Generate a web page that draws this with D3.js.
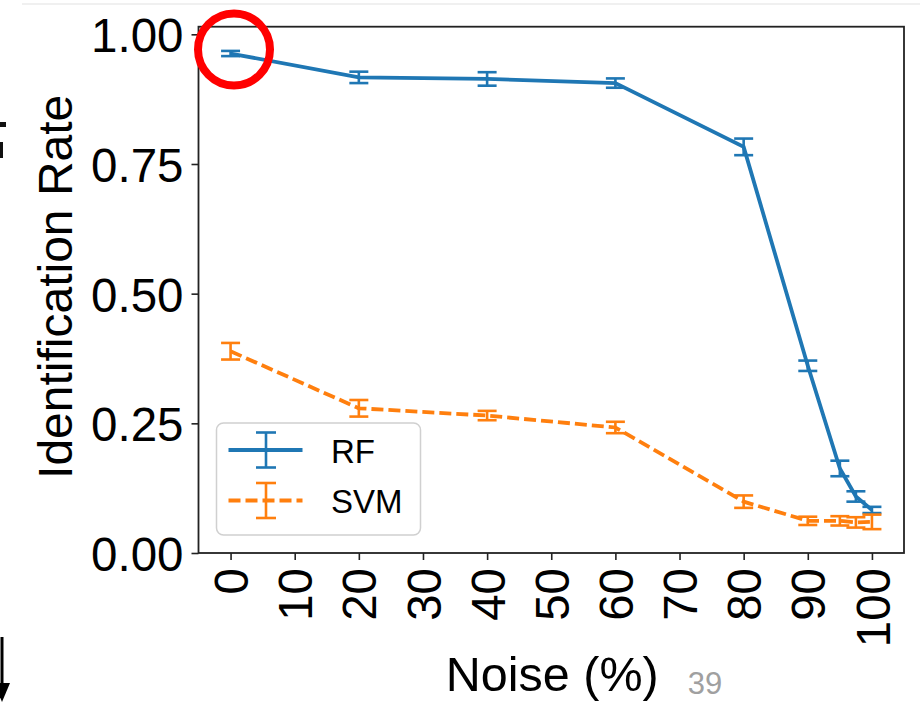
<!DOCTYPE html>
<html>
<head>
<meta charset="utf-8">
<script src="https://cdn.jsdelivr.net/npm/d3@7"></script>
<style>
  html, body { margin: 0; padding: 0; background: #fff; }
  svg { display: block; }
  text { font-family: "Liberation Sans", Arial, sans-serif; }
</style>
</head>
<body>
<svg id="chart" width="920" height="703"></svg>
<script>
// Noise levels (%) on the x axis
const noise = [0, 20, 40, 60, 80, 90, 95, 97.5, 100];

// Random forest identification rate and its spread
const rfRate = [0.963, 0.917, 0.914, 0.906, 0.783, 0.361, 0.163, 0.109, 0.083];
const rfErr  = [0.005, 0.011, 0.013, 0.009, 0.016, 0.010, 0.015, 0.010, 0.006];

// SVM identification rate and its spread
const svmRate = [0.389, 0.279, 0.265, 0.242, 0.099, 0.062, 0.062, 0.059, 0.060];
const svmErr  = [0.016, 0.016, 0.009, 0.011, 0.012, 0.008, 0.009, 0.010, 0.014];

const yTicks = [0, 0.25, 0.5, 0.75, 1.0];
const xTicks = [0, 10, 20, 30, 40, 50, 60, 70, 80, 90, 100];

const seriesNames = ["RF", "SVM"];
const seriesColors = ["#1f77b4", "#ff7f0e"];

const svg = d3.select("#chart");

const box = { left: 198.5, right: 904, top: 26.7, bottom: 553 };

const x = d3.scaleLinear().domain([-5, 105]).range([box.left, box.right]);
const y = d3.scaleLinear().domain([0, 1.0147]).range([box.bottom, box.top]);

// faint rule across the top of the slide
svg.append("line")
  .attr("x1", 22).attr("x2", 920).attr("y1", 4).attr("y2", 4)
  .attr("stroke", "#f0f0f0").attr("stroke-width", 2);

// axes
const tickFont = 47.5;
const yAxis = svg.append("g")
  .attr("transform", `translate(${box.left},0)`)
  .call(d3.axisLeft(y).tickValues(yTicks).tickFormat(d3.format(".2f")).tickSize(7).tickPadding(8));
yAxis.select(".domain").remove();
yAxis.selectAll(".tick line").attr("stroke", "#222").attr("stroke-width", 1.6);
yAxis.selectAll(".tick text")
  .attr("font-size", tickFont).attr("fill", "#000")
  .attr("font-family", "Liberation Sans, Arial, sans-serif")
  .attr("dy", "0.37em");

const xAxis = svg.append("g")
  .attr("transform", `translate(0,${box.bottom})`)
  .call(d3.axisBottom(x).tickValues(xTicks).tickFormat(d3.format("d")).tickSize(7));
xAxis.select(".domain").remove();
xAxis.selectAll(".tick line").attr("stroke", "#222").attr("stroke-width", 1.6);
xAxis.selectAll(".tick text")
  .attr("font-size", tickFont).attr("fill", "#000")
  .attr("font-family", "Liberation Sans, Arial, sans-serif")
  .attr("text-anchor", "end")
  .attr("transform", "translate(0,15) rotate(-90)")
  .attr("x", 0).attr("y", 0).attr("dy", "0.36em");

// plot frame
svg.append("rect")
  .attr("x", box.left).attr("y", box.top)
  .attr("width", box.right - box.left).attr("height", box.bottom - box.top)
  .attr("fill", "none").attr("stroke", "#222").attr("stroke-width", 1.8);

// axis titles
svg.append("text")
  .attr("transform", `translate(72,${(box.top + box.bottom) / 2 - 3}) rotate(-90)`)
  .attr("text-anchor", "middle")
  .attr("font-size", 48).attr("fill", "#000")
  .text("Identification Rate");

svg.append("text")
  .attr("x", (box.left + box.right) / 2 + 1).attr("y", 691)
  .attr("text-anchor", "middle")
  .attr("font-size", 48.5).attr("fill", "#000")
  .text("Noise (%)");

// series
const series = [
  { name: seriesNames[0], rate: rfRate, err: rfErr, color: seriesColors[0], dash: null },
  { name: seriesNames[1], rate: svmRate, err: svmErr, color: seriesColors[1], dash: "12,5" }
];

const line = d3.line().x(d => x(d[0])).y(d => y(d[1]));
const capHalf = 9.5;
const lineW = 3.8;
const barW = 2.6;

series.forEach(s => {
  const g = svg.append("g");
  const pts = noise.map((n, i) => [n, s.rate[i], s.err[i]]);
  g.append("path")
    .attr("d", line(pts))
    .attr("fill", "none")
    .attr("stroke", s.color)
    .attr("stroke-width", lineW)
    .attr("stroke-dasharray", s.dash);
  const eb = g.selectAll("g.eb").data(pts).join("g").attr("class", "eb");
  eb.append("line")
    .attr("x1", d => x(d[0])).attr("x2", d => x(d[0]))
    .attr("y1", d => y(d[1] - d[2])).attr("y2", d => y(d[1] + d[2]))
    .attr("stroke", s.color).attr("stroke-width", barW);
  [-1, 1].forEach(sign => {
    eb.append("line")
      .attr("x1", d => x(d[0]) - capHalf).attr("x2", d => x(d[0]) + capHalf)
      .attr("y1", d => y(d[1] + sign * d[2])).attr("y2", d => y(d[1] + sign * d[2]))
      .attr("stroke", s.color).attr("stroke-width", barW);
  });
});

// legend
const legend = svg.append("g");
legend.append("rect")
  .attr("x", 216.5).attr("y", 423).attr("width", 204).attr("height", 112)
  .attr("rx", 7).attr("fill", "#fff").attr("fill-opacity", 0.85)
  .attr("stroke", "#d0d0d0").attr("stroke-width", 1.5);

series.forEach((s, i) => {
  const cy = 450 + i * 50.5;
  const lg = legend.append("g");
  lg.append("line")
    .attr("x1", 228.5).attr("x2", 302.5).attr("y1", cy).attr("y2", cy)
    .attr("stroke", s.color).attr("stroke-width", lineW)
    .attr("stroke-dasharray", s.dash);
  lg.append("line")
    .attr("x1", 266).attr("x2", 266).attr("y1", cy - 17.5).attr("y2", cy + 17.5)
    .attr("stroke", s.color).attr("stroke-width", barW);
  [-17.5, 17.5].forEach(o => {
    lg.append("line")
      .attr("x1", 256).attr("x2", 276).attr("y1", cy + o).attr("y2", cy + o)
      .attr("stroke", s.color).attr("stroke-width", barW);
  });
  lg.append("text")
    .attr("x", 331).attr("y", cy + 12.5)
    .attr("font-size", 33).attr("fill", "#000")
    .text(s.name);
});

// highlight ring around the clean-data RF point
svg.append("circle")
  .attr("cx", 234).attr("cy", 49.5).attr("r", 36)
  .attr("fill", "none").attr("stroke", "#ff0000").attr("stroke-width", 8);

// slide page number
svg.append("text")
  .attr("x", 705).attr("y", 694)
  .attr("text-anchor", "middle")
  .attr("font-family", "Liberation Sans Narrow, Noto Sans, sans-serif")
  .attr("font-size", 31).attr("fill", "#a0a0a0")
  .text("39");

// marks at the left edge of the slide
svg.append("rect").attr("x", 0).attr("y", 122).attr("width", 6).attr("height", 5).attr("fill", "#111");
svg.append("rect").attr("x", 0).attr("y", 142).attr("width", 3).attr("height", 16).attr("fill", "#111");
svg.append("line")
  .attr("x1", 2).attr("x2", 2).attr("y1", 637).attr("y2", 686)
  .attr("stroke", "#000").attr("stroke-width", 3);
svg.append("path")
  .attr("d", d3.line()([[-6, 683], [10, 683], [2, 702]]) + "Z")
  .attr("fill", "#000");
</script>
</body>
</html>
